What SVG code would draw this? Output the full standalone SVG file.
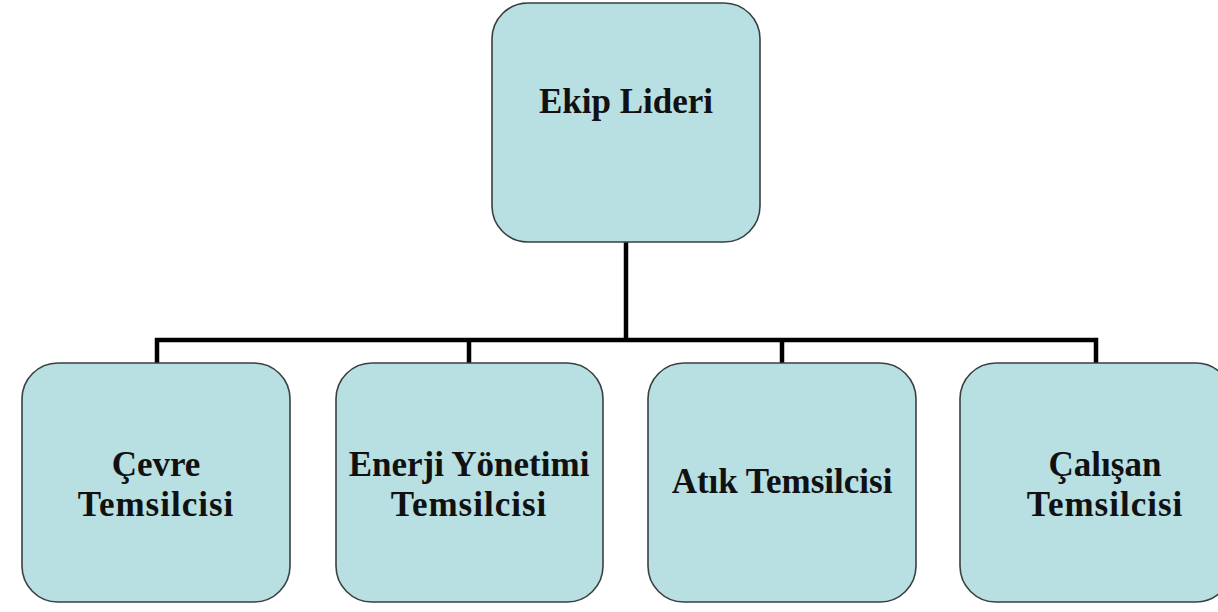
<svg xmlns="http://www.w3.org/2000/svg" width="1218" height="612" viewBox="0 0 1218 612">
<style>
.box{fill:#b8dfe2;stroke:#3a3f40;stroke-width:1.6}
.lbl{font-family:"Liberation Serif","Times New Roman",serif;font-weight:bold;font-size:35px;fill:#111;text-anchor:middle}
.sp{letter-spacing:1px}
.con{fill:none;stroke:#000;stroke-width:4.5;stroke-linejoin:miter;stroke-linecap:butt}
</style>
<rect width="1218" height="612" fill="#fff"/>
<g id="connectors">
<path class="con" d="M626 242 V340"/>
<path class="con" d="M157 363 V340 H1096 V363"/>
<path class="con" d="M469 340 V363"/>
<path class="con" d="M782 340 V363"/>
</g>
<g id="ekip-lideri">
<rect class="box" x="492" y="3" width="268" height="239" rx="36"/>
<text class="lbl" x="626" y="113">Ekip Lideri</text>
</g>
<g id="cevre">
<rect class="box" x="22" y="363" width="268" height="239" rx="36"/>
<text class="lbl" x="156" y="476">Çevre</text>
<text class="lbl sp" x="156" y="516">Temsilcisi</text>
</g>
<g id="enerji">
<rect class="box" x="336" y="363" width="267" height="239" rx="36"/>
<text class="lbl" x="469" y="476">Enerji Yönetimi</text>
<text class="lbl sp" x="469" y="516">Temsilcisi</text>
</g>
<g id="atik">
<rect class="box" x="648" y="363" width="268" height="239" rx="36"/>
<text class="lbl" x="782" y="493">Atık Temsilcisi</text>
</g>
<g id="calisan">
<rect class="box" x="960" y="363" width="272" height="239" rx="36"/>
<text class="lbl" x="1105" y="476">Çalışan</text>
<text class="lbl sp" x="1105" y="516">Temsilcisi</text>
</g>
</svg>
